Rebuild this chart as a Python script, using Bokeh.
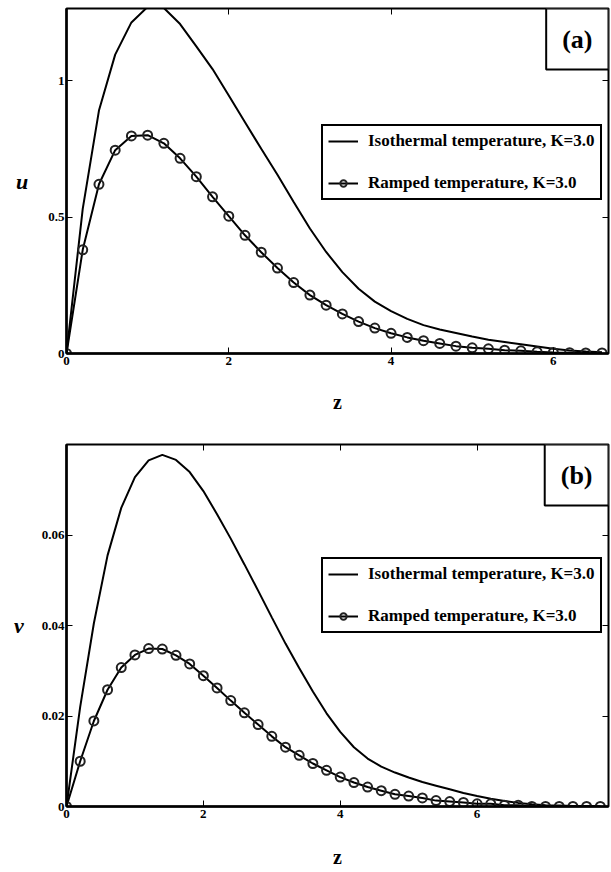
from bokeh.plotting import figure
from bokeh.layouts import column
from bokeh.models import (Range1d, FixedTicker, LinearAxis, Legend, LegendItem,
                          Label, ColumnDataSource)
from bokeh.embed import file_html
from bokeh.resources import INLINE

# ---------------- data ----------------
z_a = [0.0, 0.2, 0.4, 0.6, 0.8, 1.0, 1.2, 1.4, 1.6, 1.8, 2.0, 2.2, 2.4, 2.6, 2.8,
       3.0, 3.2, 3.4, 3.6, 3.8, 4.0, 4.2, 4.4, 4.6, 4.8, 5.0, 5.2, 5.4, 5.6, 5.8,
       6.0, 6.2, 6.4, 6.6]
u_iso = [0.0, 0.53, 0.89, 1.095, 1.213, 1.27, 1.266, 1.207, 1.125, 1.042, 0.945,
         0.847, 0.75, 0.655, 0.555, 0.458, 0.372, 0.298, 0.237, 0.19, 0.155, 0.127,
         0.104, 0.088, 0.075, 0.062, 0.05, 0.042, 0.034, 0.026, 0.017, 0.011, 0.007,
         0.005]
u_ramp = [0.0, 0.38, 0.62, 0.745, 0.797, 0.80, 0.77, 0.715, 0.648, 0.574, 0.503,
          0.433, 0.371, 0.313, 0.26, 0.214, 0.177, 0.145, 0.117, 0.093, 0.074, 0.059,
          0.047, 0.037, 0.027, 0.021, 0.017, 0.012, 0.01, 0.006, 0.004, 0.003, 0.002,
          0.002]

z_b = [0.0, 0.2, 0.4, 0.6, 0.8, 1.0, 1.2, 1.4, 1.6, 1.8, 2.0, 2.2, 2.4, 2.6, 2.8,
       3.0, 3.2, 3.4, 3.6, 3.8, 4.0, 4.2, 4.4, 4.6, 4.8, 5.0, 5.2, 5.4, 5.6, 5.8,
       6.0, 6.2, 6.4, 6.6, 6.8, 7.0, 7.2, 7.4, 7.6, 7.8]
v_iso = [0.0, 0.022, 0.0405, 0.0555, 0.066, 0.0728, 0.0765, 0.0777, 0.0766, 0.0739,
         0.0697, 0.0646, 0.0592, 0.0535, 0.0477, 0.0418, 0.036, 0.0306, 0.0254,
         0.0206, 0.0165, 0.0131, 0.0106, 0.0088, 0.0075, 0.0064, 0.0054, 0.0046,
         0.0038, 0.003, 0.0023, 0.0017, 0.0012, 0.0008, 0.0005, 0.0003, 0.0002,
         0.0001, 0.0001, 0.0]
v_ramp = [0.0, 0.0100, 0.0189, 0.0258, 0.0307, 0.0335, 0.0349, 0.0348, 0.0334,
          0.0315, 0.0289, 0.0262, 0.0234, 0.0207, 0.0181, 0.0155, 0.0131, 0.0113,
          0.0095, 0.0080, 0.0065, 0.0053, 0.0043, 0.0035, 0.0027, 0.0023, 0.0019,
          0.0013, 0.0011, 0.0009, 0.0006, 0.0006, 0.0003, 0.0003, 0.0, 0.0, 0.0,
          0.0, 0.0, 0.0]

x_ticks = [0, 2, 4, 6]
x_tick_labels = ["0", "2", "4", "6"]
u_ticks = [0, 0.5, 1]
u_tick_labels = ["0", "0.5", "1"]
v_ticks = [0, 0.02, 0.04, 0.06]
v_tick_labels = ["0", "0.02", "0.04", "0.06"]

label_iso = "Isothermal temperature, K=3.0"
label_ramp = "Ramped temperature, K=3.0"

FONT = "Liberation Serif"
W = 610


def panel(z, iso, ramp, xmax, ymax, yticks, ylabels, ylab, tag, height,
          b_left, b_top, b_bottom, leg_loc, xlab_standoff, ylab_standoff):
    p = figure(width=W, height=height, x_range=Range1d(0, xmax),
               y_range=Range1d(0, ymax), output_backend="svg",
               toolbar_location=None, min_border_left=b_left, min_border_right=2,
               min_border_top=b_top, min_border_bottom=b_bottom)
    p.grid.visible = False
    p.outline_line_color = "black"
    p.outline_line_width = 2
    p.background_fill_color = "white"
    p.border_fill_color = "white"

    xa = p.xaxis[0]
    xa.ticker = FixedTicker(ticks=x_ticks)
    xa.major_label_overrides = dict(zip(x_ticks, x_tick_labels))
    ya = p.yaxis[0]
    ya.ticker = FixedTicker(ticks=yticks)
    ya.major_label_overrides = dict(zip(yticks, ylabels))
    for ax in (xa, ya):
        ax.axis_line_color = "black"
        ax.axis_line_width = 2.5
        ax.major_tick_in = 6
        ax.major_tick_out = 0
        ax.major_tick_line_color = "black"
        ax.major_tick_line_width = 1
        ax.minor_tick_line_color = None
        ax.major_label_text_font = FONT
        ax.major_label_text_font_style = "bold"
        ax.major_label_text_font_size = "13px"
        ax.major_label_text_color = "black"
        ax.axis_label_text_font = FONT
        ax.axis_label_text_color = "black"
    xa.major_label_standoff = 3
    ya.major_label_standoff = 2
    xa.axis_label = "z"
    xa.axis_label_text_font_style = "bold"
    xa.axis_label_text_font_size = "20px"
    xa.axis_label_standoff = xlab_standoff
    ya.axis_label = ylab
    ya.axis_label_text_font_style = "bold italic"
    ya.axis_label_text_font_size = "22px"
    ya.axis_label_standoff = ylab_standoff
    ya.axis_label_orientation = "horizontal"

    # mirrored inward ticks on top and right (labels not painted)
    for ticks, place in ((x_ticks, "above"), (yticks, "right")):
        ax = LinearAxis(ticker=FixedTicker(ticks=ticks),
                        major_label_text_font_size="1px",
                        major_label_text_color=None,
                        major_label_standoff=0, major_tick_in=6, major_tick_out=0,
                        axis_line_color=None, minor_tick_line_color=None,
                        major_tick_line_color="black")
        p.add_layout(ax, place)

    src = ColumnDataSource(dict(z=z, iso=iso, ramp=ramp))
    r_iso = p.line("z", "iso", source=src, line_color="black", line_width=2)
    r_rl = p.line("z", "ramp", source=src, line_color="black", line_width=2)
    r_rs = p.scatter("z", "ramp", source=src, marker="circle", size=9,
                     fill_color=None, line_color="#222222", line_width=2)

    legend = Legend(items=[LegendItem(label=label_iso, renderers=[r_iso]),
                           LegendItem(label=label_ramp, renderers=[r_rl, r_rs])],
                    location=leg_loc)
    legend.label_text_font = FONT
    legend.label_text_font_style = "bold"
    legend.label_text_font_size = "17px"
    legend.label_text_color = "black"
    legend.border_line_color = "black"
    legend.border_line_alpha = 1
    legend.border_line_width = 2
    legend.background_fill_color = "white"
    legend.background_fill_alpha = 1
    legend.glyph_width = 30
    legend.glyph_height = 16
    legend.label_standoff = 10
    legend.label_height = 20
    legend.spacing = 22
    legend.padding = 5
    legend.margin = 0
    p.add_layout(legend)

    tag_lbl = Label(x=xmax, y=ymax, text=tag, anchor="top_right",
                    text_font=FONT, text_font_style="bold", text_font_size="26px",
                    text_color="black", border_line_color="black",
                    border_line_alpha=1, border_line_width=2,
                    background_fill_color="white", padding=16)
    p.add_layout(tag_lbl)
    return p


p1 = panel(z_a, u_iso, u_ramp, 6.68, 1.264, u_ticks, u_tick_labels, "u", "(a)",
           428, 64, 8, 75, (255, 153), 23, 17)
p2 = panel(z_b, v_iso, v_ramp, 7.92, 0.080, v_ticks, v_tick_labels, "v", "(b)",
           443, 66, 16, 65, (255, 173), 25, 15)

layout = column(p1, p2)
open("out.html", "w").write(file_html(layout, INLINE))
